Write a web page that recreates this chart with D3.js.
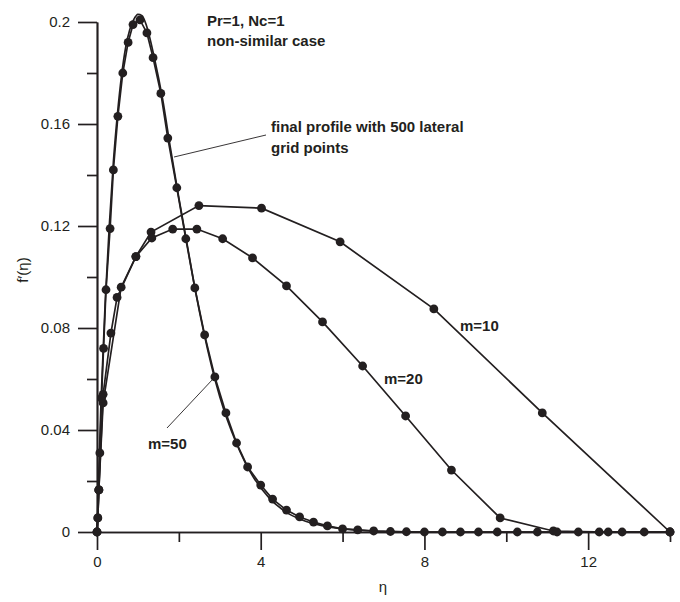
<!DOCTYPE html>
<html>
<head>
<meta charset="utf-8">
<script src="https://cdn.jsdelivr.net/npm/d3@7"></script>
<style>
  body { margin: 0; background: #fff; }
  text { font-family: "Liberation Sans", Arial, sans-serif; }
</style>
</head>
<body>
<div id="chart"></div>
<script>
// values (eta, f'(eta))
var eta50 = [0, 0.02, 0.045, 0.07, 0.11, 0.16, 0.22, 0.32, 0.4, 0.51, 0.63, 0.76, 0.88, 1.05, 1.22, 1.37, 1.56, 1.73, 1.95, 2.17, 2.39, 2.63, 2.88, 3.15, 3.41, 3.68, 4.0, 4.29, 4.63, 4.95, 5.29, 5.63, 6.0, 6.37, 6.76, 7.17, 7.56, 8.0, 8.44, 8.88, 9.32, 9.78, 10.27, 10.76, 11.24, 11.76, 12.27, 12.83, 13.37, 14];
var f50 = [0, 0.0055, 0.0165, 0.031, 0.0525, 0.072, 0.095, 0.119, 0.142, 0.163, 0.18, 0.192, 0.199, 0.2008, 0.1957, 0.186, 0.172, 0.1545, 0.135, 0.115, 0.0957, 0.0773, 0.0608, 0.0467, 0.0349, 0.0255, 0.0184, 0.0129, 0.0086, 0.0059, 0.0039, 0.0024, 0.0012, 0.0008, 0.0004, 0.0002, 0.0001, 0, 0, 0, 0, 0, 0, 0, 0, 0, 0, 0, 0, 0];

var eta20 = [0, 0.02, 0.045, 0.15, 0.34, 0.49, 0.95, 1.34, 1.85, 2.44, 3.07, 3.8, 4.63, 5.51, 6.49, 7.54, 8.66, 9.85, 11.15, 12.49, 14];
var f20 = [0, 0.0055, 0.0165, 0.054, 0.078, 0.092, 0.108, 0.1153, 0.1188, 0.1188, 0.115, 0.1075, 0.0965, 0.0824, 0.0651, 0.0455, 0.0243, 0.0055, 0.0004, 0, 0];

var eta10 = [0, 0.045, 0.15, 0.59, 0.95, 1.32, 2.49, 4.02, 5.94, 8.23, 10.88, 14];
var f10 = [0, 0.0165, 0.0506, 0.096, 0.108, 0.1176, 0.128, 0.127, 0.1138, 0.0875, 0.0467, 0];

// final profile (500 lateral grid points), drawn as a smooth line
var etaFinal = [0, 0.1, 0.2, 0.3, 0.4, 0.5, 0.6, 0.7, 0.8, 0.9, 1.0, 1.1, 1.2, 1.4, 1.6, 1.8, 2.0, 2.2, 2.4, 2.6, 2.8, 3.0, 3.4, 3.8, 4.2, 4.6, 5.0, 5.5, 6.0, 7.0, 8.0, 14];
var fFinal = [0, 0.052, 0.09, 0.12, 0.145, 0.164, 0.179, 0.19, 0.197, 0.201, 0.203, 0.2025, 0.199, 0.186, 0.17, 0.15, 0.131, 0.113, 0.095, 0.079, 0.065, 0.053, 0.035, 0.022, 0.0135, 0.008, 0.0048, 0.0025, 0.0012, 0.0003, 0, 0];

var xMajor = [0, 4, 8, 12];
var xMinor = [2, 6, 10, 14];
var yMajor = [0, 0.04, 0.08, 0.12, 0.16, 0.2];
var yMinor = [0.02, 0.06, 0.1, 0.14, 0.18];

var W = 680, H = 602;
var svg = d3.select("#chart").append("svg").attr("width", W).attr("height", H);

var x = d3.scaleLinear().domain([0, 14]).range([97, 670]);
var y = d3.scaleLinear().domain([0, 0.2]).range([532, 22]);

function pts(a, b) { return a.map(function (d, i) { return [d, b[i]]; }); }

// axes
var fmt = d3.format("~g");
var gx = svg.append("g").attr("transform", "translate(0,532)");
gx.call(d3.axisBottom(x).tickValues(xMajor).tickSize(18).tickSizeOuter(0).tickPadding(6).tickFormat(fmt));
var gx2 = svg.append("g").attr("transform", "translate(0,532)");
gx2.call(d3.axisBottom(x).tickValues(xMinor).tickSize(10).tickSizeOuter(0).tickFormat(""));
var gy = svg.append("g").attr("transform", "translate(97,0)");
gy.call(d3.axisLeft(y).tickValues(yMajor).tickSize(19).tickSizeOuter(0).tickPadding(8).tickFormat(fmt));
var gy2 = svg.append("g").attr("transform", "translate(97,0)");
gy2.call(d3.axisLeft(y).tickValues(yMinor).tickSize(10).tickSizeOuter(0).tickFormat(""));

svg.selectAll(".domain, .tick line").attr("stroke", "#231f20").attr("stroke-width", 1.7);
svg.selectAll(".tick text").attr("font-size", 15).attr("fill", "#231f20")
  .attr("font-family", "'Liberation Sans', Arial, sans-serif");

// axis titles
svg.append("text").attr("x", 383).attr("y", 592).attr("text-anchor", "middle")
  .attr("font-size", 15).attr("fill", "#231f20").text("η");
svg.append("text").attr("transform", "translate(28,270) rotate(-90)").attr("text-anchor", "middle")
  .attr("font-size", 15).attr("fill", "#231f20").text("f′(η)");

// lines
var line = d3.line().x(function (d) { return x(d[0]); }).y(function (d) { return y(d[1]); });
var smooth = d3.line().curve(d3.curveMonotoneX).x(function (d) { return x(d[0]); }).y(function (d) { return y(d[1]); });

svg.append("path").attr("d", smooth(pts(etaFinal, fFinal)))
  .attr("fill", "none").attr("stroke", "#231f20").attr("stroke-width", 1.7);

var series = [pts(eta10, f10), pts(eta20, f20), pts(eta50, f50)];
series.forEach(function (s) {
  svg.append("path").attr("d", line(s))
    .attr("fill", "none").attr("stroke", "#231f20").attr("stroke-width", 1.7);
});
series.forEach(function (s) {
  svg.append("g").selectAll("circle").data(s).enter().append("circle")
    .attr("cx", function (d) { return x(d[0]); })
    .attr("cy", function (d) { return y(d[1]); })
    .attr("r", 4.4).attr("fill", "#231f20");
});

// annotations
function label(tx, ty, str) {
  svg.append("text").attr("x", tx).attr("y", ty).attr("font-size", 15)
    .attr("font-weight", "bold").attr("fill", "#231f20").text(str);
}
label(207, 26, "Pr=1, Nc=1");
label(207, 46, "non-similar case");
label(271, 132, "final profile with 500 lateral");
label(271, 153, "grid points");
label(460, 331, "m=10");
label(384, 384, "m=20");
label(148, 449, "m=50");

svg.append("line").attr("x1", 266).attr("y1", 135).attr("x2", 174).attr("y2", 157)
  .attr("stroke", "#231f20").attr("stroke-width", 0.9);
svg.append("line").attr("x1", 167).attr("y1", 428).attr("x2", 213).attr("y2", 379)
  .attr("stroke", "#231f20").attr("stroke-width", 0.9);
</script>
</body>
</html>
